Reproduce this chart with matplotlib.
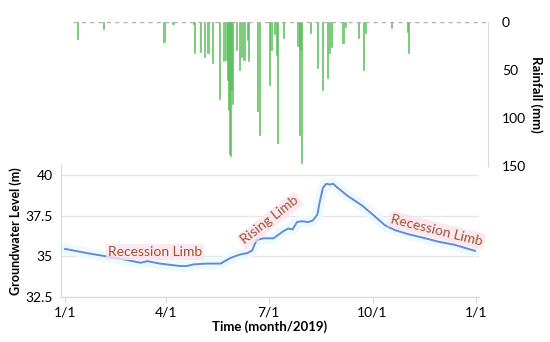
import matplotlib.pyplot as plt
import numpy as np

plt.rcParams['font.family'] = ['Lato', 'DejaVu Sans']

# rainfall (day of year, mm)
rain_day = [11, 34, 88, 96, 114, 115, 120, 124, 127, 131, 137, 141, 143, 144, 145, 146,
            147, 148, 149, 152, 155, 157, 159, 162, 163, 171, 173, 182, 183, 186, 188,
            189, 194, 207, 208, 209, 210, 218, 224, 229, 233, 235, 237, 247, 249, 261,
            265, 267, 290, 304, 305]
rain_mm = [18, 7, 21, 2, 2, 32, 31, 36, 32, 43, 80, 41, 40, 60, 92, 137,
           140, 70, 85, 29, 50, 36, 40, 19, 41, 93, 118, 66, 29, 13, 34,
           126, 17, 25, 118, 29, 147, 11, 48, 71, 58, 32, 26, 22, 5, 17,
           50, 11, 6, 10, 32]

# groundwater level (day of year, m)
gw_day = [0, 19, 40, 49, 67, 73, 84, 102, 108, 114, 126, 138, 147, 155, 162, 166,
          170, 176, 185, 193, 198, 202, 206, 210, 216, 220, 224, 226, 229, 232, 235,
          238, 242, 251, 264, 275, 284, 293, 305, 320, 331, 346, 364]
gw_lvl = [35.45, 35.2, 34.95, 34.85, 34.6, 34.7, 34.55, 34.4, 34.4, 34.5, 34.55, 34.55,
          34.9, 35.1, 35.2, 35.35, 36.0, 36.1, 36.1, 36.5, 36.7, 36.65, 37.1, 37.15,
          37.1, 37.2, 37.55, 38.3, 39.2, 39.45, 39.4, 39.45, 39.2, 38.7, 38.1, 37.45,
          36.9, 36.6, 36.35, 36.1, 35.9, 35.7, 35.33]

tick_days = [0, 90, 181, 273, 365]
tick_lbls = ['1/1', '4/1', '7/1', '10/1', '1/1']

fig = plt.figure(figsize=(5.5, 3.42), dpi=100)

# groundwater panel
ax = fig.add_axes([0.111, 0.1316, 0.76, 0.386])
ax.plot(gw_day, gw_lvl, color='#ecfafc', lw=8, solid_capstyle='round', zorder=2)
ax.plot(gw_day, gw_lvl, color='#6a88d4', lw=1.4, zorder=3)
ax.set_xlim(-3.6, 367.6)
ax.set_ylim(32.5, 40.6)
ax.set_yticks([32.5, 35, 37.5, 40])
ax.set_yticklabels(['32.5', '35', '37.5', '40'])
ax.set_xticks(tick_days)
ax.set_xticklabels(tick_lbls)
ax.grid(axis='y', color='#e6e6e6', lw=1)
for s in ['top', 'right']:
    ax.spines[s].set_visible(False)
for s in ['left', 'bottom']:
    ax.spines[s].set_color('#d9d9d9')
ax.tick_params(axis='y', length=0, labelsize=10, pad=6)
ax.tick_params(axis='x', length=4, color='#d9d9d9', labelsize=10, pad=3)
ax.set_xlabel('Time (month/2019)', fontsize=9.5, fontweight='bold', labelpad=1)
ax.set_ylabel('Groundwater Level (m)', fontsize=9, fontweight='bold', labelpad=2)

box = dict(boxstyle='square,pad=0.15', fc='#fde3ee', ec='none', alpha=0.8)
lc = '#985530'
ax.text(80, 35.25, 'Recession Limb', color=lc, fontsize=10, ha='center',
        va='center', bbox=box, zorder=4)
ax.text(182, 37.2, 'Rising Limb', color=lc, fontsize=10, ha='center',
        va='center', rotation=38, bbox=box, zorder=4)
ax.text(330, 36.6, 'Recession Limb', color=lc, fontsize=10, ha='center',
        va='center', rotation=-14, bbox=box, zorder=4)

# rainfall panel
ax2 = fig.add_axes([0.1327, 0.5146, 0.755, 0.4211])
ax2.patch.set_alpha(0)
ax2.bar(rain_day, rain_mm, width=1.0, color='#7fd07f', edgecolor='#4cb84c', lw=0.4)
ax2.axhline(0, color='#b0b0b0', lw=1, ls=(0, (3, 3)))
ax2.set_xlim(7.1, 376)
ax2.set_ylim(150, 0)
ax2.yaxis.tick_right()
ax2.yaxis.set_label_position('right')
ax2.set_yticks([0, 50, 100, 150])
ax2.set_xticks([])
for s in ['top', 'left', 'bottom']:
    ax2.spines[s].set_visible(False)
ax2.spines['right'].set_color('#d9d9d9')
ax2.tick_params(axis='y', length=0, labelsize=10, pad=10)
ax2.set_ylabel('Rainfall (mm)', fontsize=9.5, fontweight='bold', rotation=-90, labelpad=12)

fig.savefig('out.png', dpi=100)
